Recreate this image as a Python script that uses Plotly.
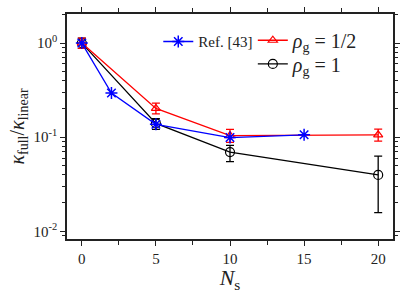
import plotly.graph_objects as go

# Data
N_ref = [0, 2, 5, 10, 15]
kappa_ref = [1.0, 0.295, 0.137, 0.099, 0.106]

N_half = [0, 5, 10, 20]
kappa_half = [1.0, 0.202, 0.104, 0.106]
kappa_half_hi = [1.13, 0.230, 0.121, 0.122]
kappa_half_lo = [0.88, 0.177, 0.088, 0.091]

N_one = [0, 5, 10, 20]
kappa_one = [1.0, 0.140, 0.0695, 0.0397]
kappa_one_hi = [1.13, 0.157, 0.082, 0.063]
kappa_one_lo = [0.88, 0.121, 0.055, 0.0158]

x_ticks = [0, 5, 10, 15, 20]
y_ticks = [0.01, 0.1, 1]
y_tick_text = ["10<sup>-2</sup>", "10<sup>-1</sup>", "10<sup>0</sup>"]

SERIF = "Liberation Serif"

def err(y, hi, lo):
    return [h - v for v, h in zip(y, hi)], [v - l for v, l in zip(y, lo)]

one_p, one_m = err(kappa_one, kappa_one_hi, kappa_one_lo)
half_p, half_m = err(kappa_half, kappa_half_hi, kappa_half_lo)

fig = go.Figure()
fig.add_trace(go.Scatter(
    x=N_one, y=kappa_one, mode="lines+markers", name="<i>ρ</i><sub>g</sub> = 1",
    line=dict(color="black", width=1.3),
    marker=dict(symbol="circle-open", size=9, color="black", line=dict(width=1.2)),
    error_y=dict(type="data", array=one_p, arrayminus=one_m, color="black",
                 thickness=1.3, width=4),
    legend="legend3", showlegend=True))
fig.add_trace(go.Scatter(
    x=N_half, y=kappa_half, mode="lines+markers", name="<i>ρ</i><sub>g</sub> = 1/2",
    line=dict(color="red", width=1.3),
    marker=dict(symbol="triangle-up-open", size=8, color="red", line=dict(width=1.2)),
    error_y=dict(type="data", array=half_p, arrayminus=half_m, color="red",
                 thickness=1.3, width=4),
    legend="legend2", showlegend=True))
fig.add_trace(go.Scatter(
    x=N_ref, y=kappa_ref, mode="lines+markers", name="Ref. [43]",
    line=dict(color="blue", width=1.3),
    marker=dict(symbol="asterisk-open", size=10, color="blue", line=dict(width=1.5, color="blue")),
    legend="legend", showlegend=True))

axis_common = dict(
    showline=True, linecolor="#222", linewidth=1.5, mirror="allticks",
    ticks="outside", ticklen=5, tickwidth=1.2, tickcolor="#222",
    showgrid=False, zeroline=False,
    tickfont=dict(family=SERIF, size=15, color="#222"),
)

minor_y = [m * 10 ** e for e in (-3, -2, -1, 0) for m in range(2, 10)]

fig.update_layout(
    width=407, height=293,
    showlegend=True,
    margin=dict(l=67, r=9, t=7, b=54),
    paper_bgcolor="white", plot_bgcolor="white",
    font=dict(family=SERIF, color="#222"),
    xaxis=dict(
        range=[-1, 21], tickvals=x_ticks,
        minor=dict(dtick=2.5, tick0=0, ticks="outside", ticklen=4, tickcolor="#222"),
        title=dict(text="<i>N</i><sub>s</sub>", font=dict(family=SERIF, size=22), standoff=2),
        **axis_common),
    yaxis=dict(
        type="log", range=[-2.082, 0.309],
        tickvals=y_ticks, ticktext=y_tick_text,
        minor=dict(tickvals=minor_y, ticks="outside", ticklen=3, tickcolor="#222"),
        title=dict(text="<i>κ</i><sub>full</sub>/<i>κ</i><sub>linear</sub>",
                   font=dict(family=SERIF, size=20), standoff=4),
        **axis_common),
    legend=dict(x=0.28, y=0.95, xanchor="left", yanchor="top",
                bgcolor="rgba(0,0,0,0)", font=dict(family=SERIF, size=15),
                itemwidth=30),
    legend2=dict(x=0.57, y=0.97, xanchor="left", yanchor="top",
                 bgcolor="rgba(0,0,0,0)", font=dict(family=SERIF, size=20),
                 itemwidth=30),
    legend3=dict(x=0.57, y=0.865, xanchor="left", yanchor="top",
                 bgcolor="rgba(0,0,0,0)", font=dict(family=SERIF, size=20),
                 itemwidth=30),
)

fig.write_html("out.html", config={"displayModeBar": False},
               post_script="document.body.style.margin='0px';")
